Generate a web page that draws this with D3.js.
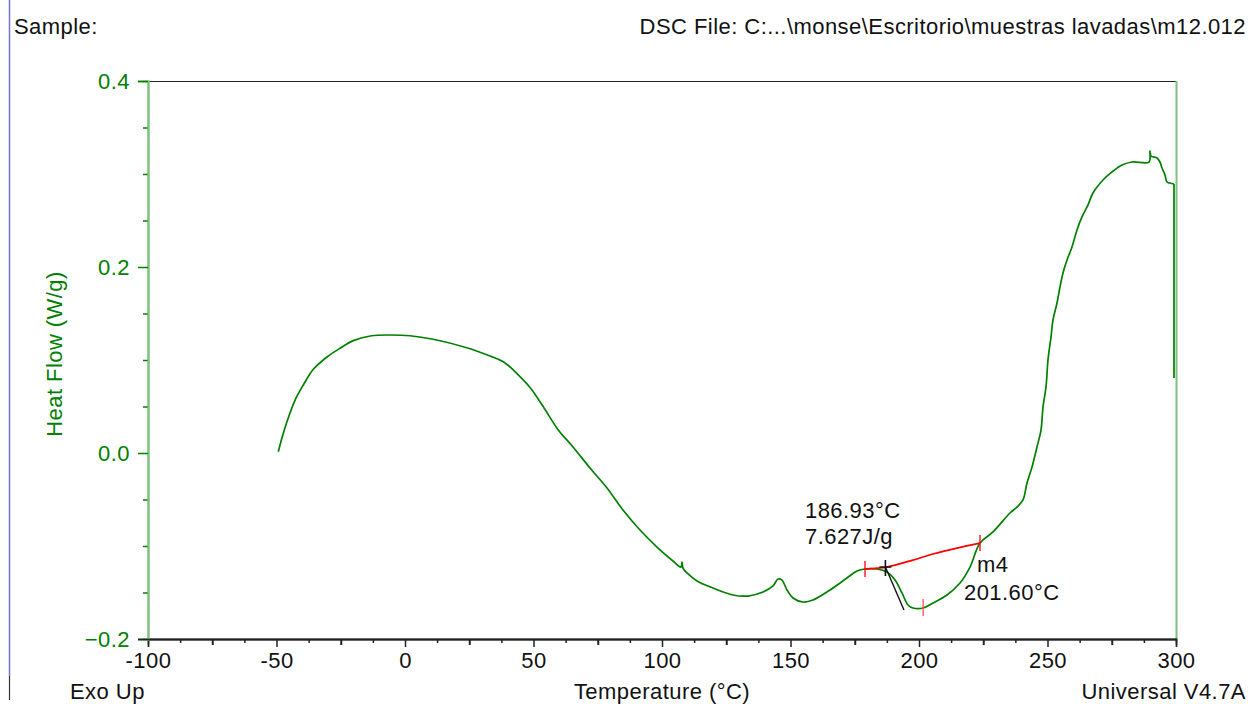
<!DOCTYPE html>
<html>
<head>
<meta charset="utf-8">
<script src="https://cdn.jsdelivr.net/npm/d3@7"></script>
<style>
  html, body { margin: 0; padding: 0; background: #ffffff; }
  svg { display: block; }
  text { font-family: "Liberation Sans", Arial, sans-serif; letter-spacing: 0.45px; }
</style>
</head>
<body>
<svg id="chart" width="1252" height="704"></svg>
<script>
// DSC thermogram, sample m12.012
const temperature = [
  -49.3, -47.35, -44.75, -42.14, -39.57, -35.68, -30.47, -25.29, -20.12, -12.96,
  -5.84, 1.95, 11.0, 24.0, 33.07, 38.25, 43.46, 48.64, 53.81, 59.65,
  65.37, 71.98, 78.6, 84.82, 91.44, 98.05, 104.28, 107.39, 107.78, 108.17,
  109.73, 113.62, 119.84, 127.63, 133.46, 139.3, 143.19, 145.14, 146.69, 148.64,
  150.97, 154.86, 158.75, 165.37, 171.98, 175.88, 178.99, 183.66, 187.55, 190.66,
  193.39, 195.72, 197.67, 201.56, 205.45, 210.89, 215.95, 219.84, 223.74, 228.79,
  235.41, 238.13, 240.47, 242.02, 243.97, 245.91, 247.47, 248.25, 249.42, 250.19,
  251.36, 252.14, 253.70, 254.86, 256.03, 257.59, 259.53, 261.48, 263.42, 265.76,
  267.70, 271.60, 275.10, 278.99, 282.88, 289.49, 289.88, 290.27, 292.61, 293.77,
  294.55, 295.72, 296.50, 297.67, 299.22, 299.22
];
const heatFlow = [
  0.0014, 0.0212, 0.0430, 0.0605, 0.0731, 0.0900, 0.1030, 0.1126, 0.1208, 0.1261,
  0.1269, 0.1261, 0.1223, 0.1132, 0.1043, 0.0982, 0.0857, 0.0705, 0.0498, 0.0247,
  0.0065, -0.0161, -0.0376, -0.0613, -0.0828, -0.1011, -0.1161, -0.1226, -0.1172, -0.1237,
  -0.1290, -0.1376, -0.1452, -0.1527, -0.1538, -0.1495, -0.1430, -0.1355, -0.1366, -0.1473,
  -0.1559, -0.1602, -0.1581, -0.1473, -0.1344, -0.1269, -0.1247, -0.1247, -0.1280, -0.1366,
  -0.1505, -0.1634, -0.1667, -0.1667, -0.1613, -0.1527, -0.1398, -0.1226, -0.0968, -0.0849,
  -0.0645, -0.0581, -0.0505, -0.0323, -0.0151, 0.0065, 0.0247, 0.0495, 0.0710, 0.1000,
  0.1247, 0.1430, 0.1613, 0.1785, 0.1935, 0.2075, 0.2215, 0.2398, 0.2538, 0.2667,
  0.2796, 0.2935, 0.3022, 0.3097, 0.3129, 0.3129, 0.3247, 0.3194, 0.3172, 0.3129,
  0.3065, 0.2989, 0.2914, 0.2903, 0.2892, 0.0806
];

// Integration baseline for the m4 peak
const baselineT = [178.99, 187.55, 197.67, 205.45, 214.79, 223.74];
const baselineHF = [-0.1247, -0.1226, -0.1151, -0.1086, -0.1022, -0.0968];

// Onset tangent
const tangentT = [186.93, 194.16];
const tangentHF = [-0.1226, -0.1688];

const onsetTemp = 186.93;
const onsetHF = -0.1226;
const enthalpy = 7.627;
const peakTemp = 201.60;
const peakHF = -0.1667;
const limitsT = [178.99, 223.74];
const limitsHF = [-0.1247, -0.0968];

const xMajorTicks = [-100, -50, 0, 50, 100, 150, 200, 250, 300];
const yMajorTicks = [0.4, 0.2, 0.0, -0.2];

(function draw() {
  const svg = d3.select("#chart");
  const mL = 148, mR = 1176, mT = 81, mB = 639;

  const x = d3.scaleLinear().domain([-100, 300]).range([mL, mR]);
  const y = d3.scaleLinear().domain([-0.2, 0.4]).range([mB, mT]);

  const GREEN = "#008000";
  const AXIS_GREEN = "#7fc07f";
  const FONT = 22;
  const FAM = "Liberation Sans, Arial, sans-serif";

  // page edge rule
  svg.append("line").attr("x1", 9.5).attr("x2", 9.5).attr("y1", 0).attr("y2", 676)
    .attr("stroke", "#7373c9").attr("stroke-width", 1.5);
  svg.append("line").attr("x1", 9.5).attr("x2", 9.5).attr("y1", 676).attr("y2", 700)
    .attr("stroke", "#333").attr("stroke-width", 1.2);

  // header
  svg.append("text").attr("x", 14).attr("y", 34).attr("font-size", FONT).attr("fill", "#111")
    .text("Sample:");
  svg.append("text").attr("x", 1246).attr("y", 34).attr("font-size", FONT).attr("fill", "#111")
    .attr("text-anchor", "end")
    .text("DSC File: C:...\\monse\\Escritorio\\muestras lavadas\\m12.012");

  // frame: top black, right light green
  svg.append("line").attr("x1", mL).attr("x2", mR).attr("y1", mT + 0.5).attr("y2", mT + 0.5)
    .attr("stroke", "#222").attr("stroke-width", 1.2);
  svg.append("line").attr("x1", mR + 0.5).attr("x2", mR + 0.5).attr("y1", mT).attr("y2", mB)
    .attr("stroke", AXIS_GREEN).attr("stroke-width", 2);

  // x axis: minor ticks every 12.5, medium every 25, labels every 50
  const xMinor = d3.range(-100, 300.01, 12.5);
  const gxMinor = svg.append("g").attr("transform", `translate(0,${mB})`)
    .call(d3.axisBottom(x).tickValues(xMinor.filter(v => v % 25 !== 0)).tickSize(4).tickFormat(""));
  const gxMid = svg.append("g").attr("transform", `translate(0,${mB})`)
    .call(d3.axisBottom(x).tickValues(xMinor.filter(v => v % 25 === 0 && v % 50 !== 0)).tickSize(6).tickFormat(""));
  const gx = svg.append("g").attr("transform", `translate(0,${mB})`)
    .call(d3.axisBottom(x).tickValues(xMajorTicks).tickSize(8).tickPadding(5)
      .tickFormat(d => String(d)));
  [gxMinor, gxMid, gx].forEach(g => {
    g.select(".domain").attr("stroke", "#222").attr("stroke-width", 1.3);
    g.selectAll(".tick line").attr("stroke", "#222").attr("stroke-width", 1.5);
  });
  gxMid.selectAll(".tick line").attr("stroke-width", 2);
  gx.selectAll(".tick text").attr("font-size", FONT).attr("fill", "#111").attr("font-family", FAM);

  // y axis: minor ticks every 0.05, labels every 0.2
  const yMinor = d3.range(-0.2, 0.4001, 0.05).map(v => +v.toFixed(2));
  const gyMinor = svg.append("g").attr("transform", `translate(${mL},0)`)
    .call(d3.axisLeft(y).tickValues(yMinor.filter(v => !yMajorTicks.some(m => Math.abs(m - v) < 1e-6)))
      .tickSize(5).tickFormat(""));
  const gy = svg.append("g").attr("transform", `translate(${mL},0)`)
    .call(d3.axisLeft(y).tickValues(yMajorTicks).tickSize(10).tickPadding(8)
      .tickFormat(d3.format(".1f")));
  [gyMinor, gy].forEach(g => {
    g.select(".domain").attr("stroke", AXIS_GREEN).attr("stroke-width", 2);
    g.selectAll(".tick line").attr("stroke", GREEN).attr("stroke-width", 1.5);
  });
  gy.selectAll(".tick text").attr("font-size", FONT).attr("fill", GREEN).attr("font-family", FAM);

  // bottom axis line across the corner
  svg.append("line").attr("x1", mL - 10).attr("x2", mR).attr("y1", mB + 0.5).attr("y2", mB + 0.5)
    .attr("stroke", "#222").attr("stroke-width", 1.3);

  // axis titles
  svg.append("text").attr("transform", `translate(62,354) rotate(-90)`)
    .attr("text-anchor", "middle").attr("font-size", FONT).attr("fill", GREEN)
    .text("Heat Flow (W/g)");
  svg.append("text").attr("x", 662).attr("y", 699).attr("text-anchor", "middle")
    .attr("font-size", FONT).attr("fill", "#111").text("Temperature (°C)");
  svg.append("text").attr("x", 70).attr("y", 699)
    .attr("font-size", FONT).attr("fill", "#111").text("Exo Up");
  svg.append("text").attr("x", 1246).attr("y", 699).attr("text-anchor", "end")
    .attr("font-size", FONT).attr("fill", "#111").text("Universal V4.7A");

  // heat flow curve: smooth trace, with the final instrument drop drawn straight
  const pts = temperature.map((t, i) => [t, heatFlow[i]]);
  const smooth = d3.line().curve(d3.curveCatmullRom.alpha(0.5)).x(d => x(d[0])).y(d => y(d[1]));
  const straight = d3.line().x(d => x(d[0])).y(d => y(d[1]));
  const n = pts.length;
  svg.append("path").datum(pts.slice(0, n - 1)).attr("d", smooth)
    .attr("fill", "none").attr("stroke", GREEN).attr("stroke-width", 1.7)
    .attr("stroke-linejoin", "round");
  svg.append("path").datum(pts.slice(n - 2)).attr("d", straight)
    .attr("fill", "none").attr("stroke", GREEN).attr("stroke-width", 1.7);

  // integration baseline
  const base = baselineT.map((t, i) => [t, baselineHF[i]]);
  svg.append("path").datum(base)
    .attr("d", d3.line().curve(d3.curveMonotoneX).x(d => x(d[0])).y(d => y(d[1])))
    .attr("fill", "none").attr("stroke", "#ff0000").attr("stroke-width", 1.8);

  // integration limits and peak marker
  limitsT.forEach((t, i) => {
    svg.append("line").attr("x1", x(t)).attr("x2", x(t))
      .attr("y1", y(limitsHF[i]) - 8).attr("y2", y(limitsHF[i]) + 8)
      .attr("stroke", "#ff0000").attr("stroke-width", 1.3);
  });
  svg.append("line").attr("x1", x(peakTemp)).attr("x2", x(peakTemp))
    .attr("y1", y(peakHF) - 9).attr("y2", y(peakHF) + 8)
    .attr("stroke", "#ff5050").attr("stroke-width", 1.3);

  // onset tangent and marker
  const tan = tangentT.map((t, i) => [t, tangentHF[i]]);
  svg.append("path").datum(tan).attr("d", straight)
    .attr("fill", "none").attr("stroke", "#111").attr("stroke-width", 1.4);
  svg.append("line").attr("x1", x(onsetTemp)).attr("x2", x(onsetTemp))
    .attr("y1", y(onsetHF) - 7).attr("y2", y(onsetHF) + 9)
    .attr("stroke", "#111").attr("stroke-width", 1.6);
  svg.append("line").attr("x1", x(onsetTemp) - 6).attr("x2", x(onsetTemp) + 6)
    .attr("y1", y(onsetHF)).attr("y2", y(onsetHF))
    .attr("stroke", "#111").attr("stroke-width", 1.4);

  // annotations
  svg.append("text").attr("x", 805).attr("y", 518).attr("font-size", FONT).attr("fill", "#111")
    .text(onsetTemp.toFixed(2) + "°C");
  svg.append("text").attr("x", 805).attr("y", 544).attr("font-size", FONT).attr("fill", "#111")
    .text(enthalpy.toFixed(3) + "J/g");
  svg.append("text").attr("x", 977).attr("y", 572).attr("font-size", FONT).attr("fill", "#111")
    .text("m4");
  svg.append("text").attr("x", 964).attr("y", 600).attr("font-size", FONT).attr("fill", "#111")
    .text(peakTemp.toFixed(2) + "°C");
})();
</script>
</body>
</html>
